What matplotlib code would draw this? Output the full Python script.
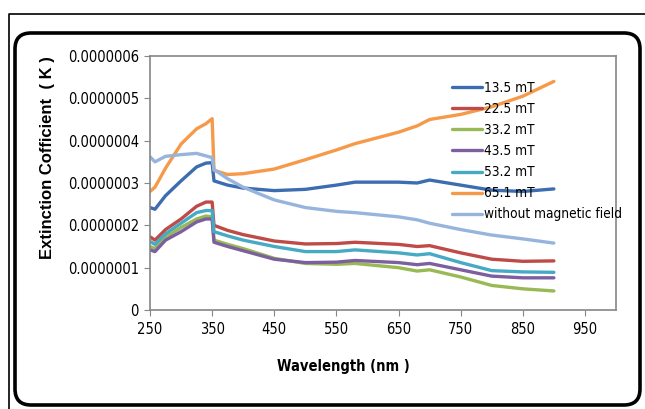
import numpy as np
import matplotlib
matplotlib.use('Agg')
import matplotlib.pyplot as plt
from matplotlib.patches import FancyBboxPatch
from matplotlib.lines import Line2D
from matplotlib.ticker import FixedLocator, FuncFormatter

# wavelength grid (nm) and extinction coefficient values (x 1e-7)
wavelength = [250, 258, 275, 300, 325, 340, 350, 353, 375, 400, 450, 500,
              550, 580, 650, 680, 700, 750, 800, 850, 900]

k_13_5 = [2.42, 2.38, 2.70, 3.05, 3.38, 3.47, 3.48, 3.05, 2.95, 2.88, 2.82, 2.85,
          2.95, 3.02, 3.02, 3.00, 3.07, 2.95, 2.83, 2.80, 2.86]
k_22_5 = [1.73, 1.65, 1.90, 2.15, 2.45, 2.55, 2.55, 2.00, 1.88, 1.78, 1.63, 1.56,
          1.57, 1.60, 1.55, 1.50, 1.52, 1.35, 1.20, 1.15, 1.16]
k_33_2 = [1.50, 1.45, 1.72, 1.95, 2.15, 2.22, 2.20, 1.65, 1.55, 1.45, 1.22, 1.10,
          1.08, 1.10, 1.00, 0.92, 0.95, 0.78, 0.58, 0.50, 0.45]
k_43_5 = [1.42, 1.38, 1.65, 1.85, 2.08, 2.15, 2.15, 1.60, 1.50, 1.40, 1.20, 1.12,
          1.13, 1.17, 1.12, 1.07, 1.10, 0.95, 0.80, 0.76, 0.76]
k_53_2 = [1.62, 1.55, 1.80, 2.05, 2.30, 2.35, 2.35, 1.85, 1.75, 1.65, 1.50, 1.38,
          1.38, 1.42, 1.35, 1.30, 1.33, 1.12, 0.93, 0.90, 0.89]
k_65_1 = [2.80, 2.90, 3.35, 3.92, 4.28, 4.40, 4.52, 3.30, 3.20, 3.22, 3.33, 3.55,
          3.78, 3.93, 4.20, 4.35, 4.50, 4.62, 4.80, 5.05, 5.40]
k_none = [3.62, 3.50, 3.63, 3.67, 3.70, 3.64, 3.60, 3.32, 3.10, 2.90, 2.60, 2.42,
          2.33, 2.30, 2.20, 2.13, 2.05, 1.90, 1.77, 1.68, 1.58]

labels = ['13.5 mT', '22.5 mT', '33.2 mT', '43.5 mT', '53.2 mT', '65.1 mT',
          'without magnetic field']
colors = ['#3C6DB0', '#BE4B48', '#98B954', '#7D5FA0', '#46AAC5', '#F59A4A', '#97B5DC']
series = [k_13_5, k_22_5, k_33_2, k_43_5, k_53_2, k_65_1, k_none]

xticks = [250, 350, 450, 550, 650, 750, 850, 950]
yticks = [0, 1e-7, 2e-7, 3e-7, 4e-7, 5e-7, 6e-7]

fig = plt.figure(figsize=(6.45, 4.09), dpi=100)
ax = fig.add_axes([150 / 645, 1 - 310 / 409, 466 / 645, 254 / 409])

for vals, lab, col in zip(series, labels, colors):
    ax.plot(wavelength, np.array(vals) * 1e-7, color=col, lw=2.4, label=lab,
            solid_capstyle='round')

ax.set_xlim(250, 1000)
ax.set_ylim(0, 6e-7)
ax.xaxis.set_major_locator(FixedLocator(xticks))
ax.yaxis.set_major_locator(FixedLocator(yticks))
ax.yaxis.set_major_formatter(FuncFormatter(lambda v, p: '0' if v == 0 else f'{v:.7f}'))
ax.tick_params(axis='both', direction='out', length=4, color='#868686',
               labelsize=10.5, labelcolor='black')
ax.tick_params(axis='y', pad=4)
ax.tick_params(axis='x', pad=5)
for lbl in ax.get_xticklabels() + ax.get_yticklabels():
    lbl.set_family('DejaVu Sans')
    lbl.set_stretch('condensed')
for s in ax.spines.values():
    s.set_color('#868686')
    s.set_linewidth(1.2)

ax.set_ylabel('Extinction Cofficient  ( K )', fontsize=12, fontweight='bold',
              family='Liberation Sans')
ax.yaxis.set_label_coords(-0.221, 0.6)
ax.yaxis.label.set_va('center')
ax.set_xlabel('Wavelength (nm )', fontsize=10.5, fontweight='bold',
              family='DejaVu Sans', stretch='condensed')
ax.xaxis.set_label_coords(0.414, -0.224)
ax.xaxis.label.set_va('center')

leg = ax.legend(loc='upper left', bbox_to_anchor=(452 / 645, 1 - 81 / 409),
                bbox_transform=fig.transFigure, frameon=False,
                prop={'family': 'DejaVu Sans', 'stretch': 'condensed', 'size': 9.8},
                handlelength=2.2, handletextpad=0.15, labelspacing=0.52,
                borderpad=0, borderaxespad=0)

# outer thin frame and rounded chart border (inches)
fig.add_artist(Line2D([0.09, 0.09, 6.5], [-0.1, 3.95, 3.95], color='black', lw=1.2,
                      transform=fig.dpi_scale_trans))
fig.add_artist(FancyBboxPatch((0.15, 0.04), 6.25, 3.72,
                              boxstyle='round,pad=0,rounding_size=0.16',
                              fill=False, ec='black', lw=2.6,
                              transform=fig.dpi_scale_trans))

fig.savefig('out.png', dpi=100)
